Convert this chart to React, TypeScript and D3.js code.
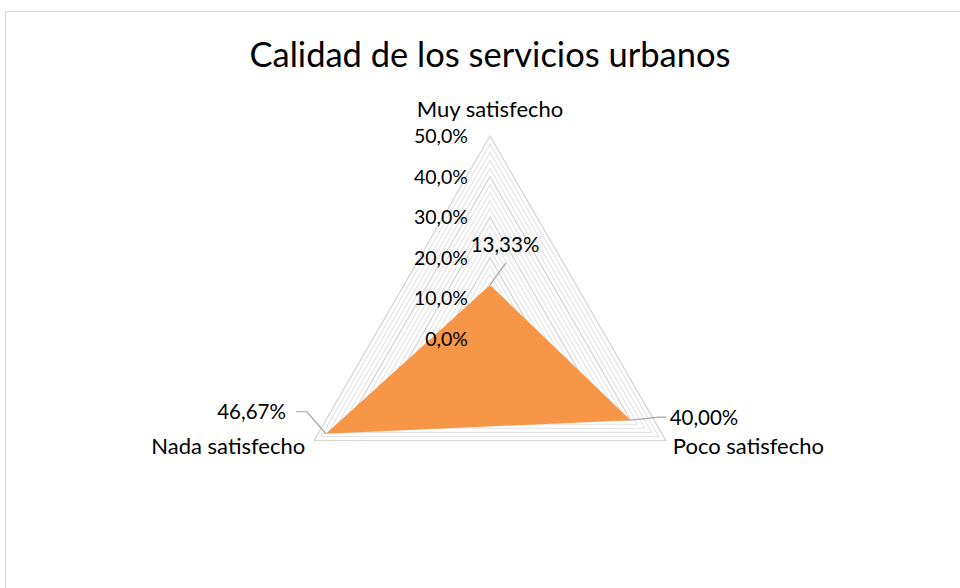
import React from 'react';
import * as d3 from 'd3';

// Chart data
const categories = ['Muy satisfecho', 'Poco satisfecho', 'Nada satisfecho'];
const shares = [0.1333, 0.4, 0.4667];
const majorTicks = [0, 0.1, 0.2, 0.3, 0.4, 0.5];
const minorTicks = [0.02, 0.04, 0.06, 0.08, 0.12, 0.14, 0.16, 0.18, 0.22, 0.24, 0.26, 0.28, 0.32, 0.34, 0.36, 0.38, 0.42, 0.44, 0.46, 0.48];

const title = 'Calidad de los servicios urbanos';

const width = 960;
const height = 588;
const cx = 490;
const cy = 339;
const font = 'Lato, "Open Sans", sans-serif';

const es = d3.formatLocale({ decimal: ',', thousands: '.', grouping: [3], currency: ['', '€'] });
const tickFmt = es.format('.1%');
const valueFmt = es.format('.2%');

export default function App() {
  const r = d3.scaleLinear().domain([0, 0.5]).range([0, 203]);
  const angle = d3.scalePoint<string>().domain(categories).range([0, (2 * Math.PI * 2) / 3]);

  const ring = (v: number) =>
    d3.lineRadial<string>().angle(c => angle(c)!).radius(() => r(v)).curve(d3.curveLinearClosed)(categories)!;

  const area = d3
    .lineRadial<number>()
    .angle((_, i) => angle(categories[i])!)
    .radius(d => r(d))
    .curve(d3.curveLinearClosed)(shares)!;

  // point of a category at a given value, in page coordinates
  const pt = (i: number, v: number): [number, number] => {
    const a = angle(categories[i])!;
    return [cx + r(v) * Math.sin(a), cy - r(v) * Math.cos(a)];
  };

  const [mx, my] = pt(0, shares[0]);
  const [px, py] = pt(1, shares[1]);
  const [nx, ny] = pt(2, shares[2]);
  const [, topY] = pt(0, 0.5);
  const [leftX, baseY] = pt(2, 0.5);
  const [rightX] = pt(1, 0.5);

  const leader = { stroke: '#a6a6a6', strokeWidth: 1.2, fill: 'none' };

  return (
    <div style={{ position: 'absolute', left: 0, top: 0 }}>
      <svg width={width} height={height} style={{ display: 'block', background: '#fff' }}>
        <rect x={5.5} y={11.5} width={2000} height={2000} fill="#fff" stroke="#d9d9d9" strokeWidth={1} />
        <text x={cx} y={67} textAnchor="middle" fontFamily={font} fontSize={34.5} fill="#000">
          {title}
        </text>

        <g transform={`translate(${cx},${cy})`}>
          {minorTicks.map(v => (
            <path key={'mi' + v} d={ring(v)} fill="none" stroke="#e4e4e4" strokeWidth={1.1} />
          ))}
          {majorTicks.map(v => (
            <path key={'ma' + v} d={ring(v)} fill="none" stroke="#d4d4d4" strokeWidth={1.2} />
          ))}
          <path d={area} fill="#f79646" />
        </g>

        {majorTicks.map(v => (
          <text
            key={'t' + v}
            x={cx - 22}
            y={cy - r(v)}
            dy="0.36em"
            textAnchor="end"
            fontFamily={font}
            fontSize={19.5}
            fill="#000"
          >
            {tickFmt(v)}
          </text>
        ))}

        {/* category labels */}
        <text x={cx} y={topY - 19} textAnchor="middle" fontFamily={font} fontSize={22} fill="#000">
          {categories[0]}
        </text>
        <text x={rightX + 7} y={baseY + 13} textAnchor="start" fontFamily={font} fontSize={22} fill="#000">
          {categories[1]}
        </text>
        <text x={leftX - 9} y={baseY + 13} textAnchor="end" fontFamily={font} fontSize={22} fill="#000">
          {categories[2]}
        </text>

        {/* data labels with leader lines */}
        <polyline points={`${mx},${my} ${mx + 16},${my - 22}`} {...leader} />
        <text x={mx + 15} y={my - 33} textAnchor="middle" fontFamily={font} fontSize={20.5} fill="#000">
          {valueFmt(shares[0])}
        </text>

        <polyline points={`${px},${py} ${px + 28},${py - 3} ${px + 36},${py - 3}`} {...leader} />
        <text x={px + 39} y={py - 3} dy="0.36em" textAnchor="start" fontFamily={font} fontSize={20.5} fill="#000">
          {valueFmt(shares[1])}
        </text>

        <polyline points={`${nx},${ny} ${nx - 19},${ny - 22} ${nx - 30},${ny - 22}`} {...leader} />
        <text x={nx - 40} y={ny - 22} dy="0.36em" textAnchor="end" fontFamily={font} fontSize={20.5} fill="#000">
          {valueFmt(shares[2])}
        </text>
      </svg>
    </div>
  );
}
